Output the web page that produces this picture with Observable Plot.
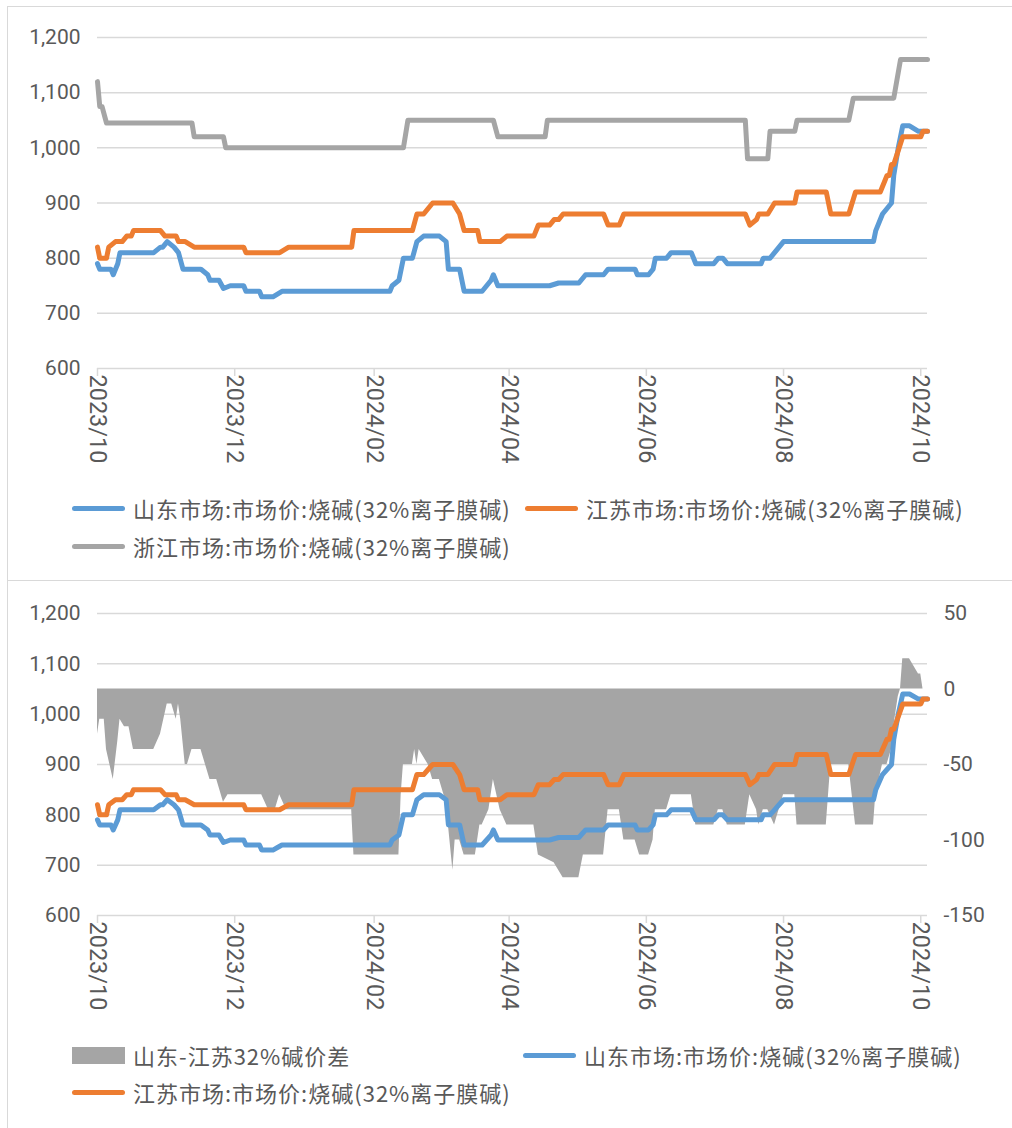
<!DOCTYPE html>
<html><head><meta charset="utf-8">
<script src="https://cdn.jsdelivr.net/npm/d3@7"></script>
<script src="https://cdn.jsdelivr.net/npm/@observablehq/plot@0.6"></script>
<style>
body{margin:0;background:#fff;width:1012px;height:1128px;overflow:hidden;position:relative;font-family:Roboto,"Noto Sans CJK SC",sans-serif;}
.panel{position:absolute;border:1.5px solid #d9d9d9;box-sizing:border-box;}
.chart{position:absolute;left:0;}
.item{position:absolute;display:flex;align-items:center;height:30px;font-family:"Noto Sans CJK SC";font-size:22px;letter-spacing:1px;color:#595959;white-space:nowrap;}
.line{display:inline-block;width:53px;height:5px;border-radius:3px;margin-right:8px;}
.box{display:inline-block;width:53px;height:17px;margin-right:8px;}
</style></head><body>
<div class="panel" style="left:7px;top:6px;width:1010px;height:575px"></div>
<div class="panel" style="left:7px;top:580px;width:1010px;height:560px"></div>
<div id="topChart" class="chart" style="top:0"></div>
<div id="bottomChart" class="chart" style="top:580px"></div>
<script>
// ---- data ----
const seriesNames = ["山东市场:市场价:烧碱(32%离子膜碱)", "江苏市场:市场价:烧碱(32%离子膜碱)", "浙江市场:市场价:烧碱(32%离子膜碱)"];
const spreadName = "山东-江苏32%碱价差";
const xTickLabels = ["2023/10","2023/12","2024/02","2024/04","2024/06","2024/08","2024/10"];
const yTicksLeft = [600,700,800,900,1000,1100,1200];
const yTicksRight = [-150,-100,-50,0,50];

const shandong = [
["2023-10-01",790],["2023-10-02",780],["2023-10-07",780],["2023-10-08",770],["2023-10-10",790],["2023-10-11",810],
["2023-10-26",810],["2023-10-29",820],["2023-10-30",820],["2023-11-01",830],["2023-11-04",820],["2023-11-06",810],
["2023-11-08",780],["2023-11-16",780],["2023-11-19",770],["2023-11-20",760],["2023-11-24",760],["2023-11-26",745],
["2023-11-29",750],["2023-12-05",750],["2023-12-06",740],["2023-12-12",740],["2023-12-13",730],["2023-12-18",730],
["2023-12-20",735],["2023-12-22",740],["2024-02-08",740],["2024-02-09",750],["2024-02-12",760],["2024-02-13",780],
["2024-02-14",800],["2024-02-18",800],["2024-02-20",830],["2024-02-23",840],["2024-03-01",840],["2024-03-04",830],
["2024-03-05",780],["2024-03-10",780],["2024-03-12",740],["2024-03-20",740],["2024-03-22",750],["2024-03-24",760],
["2024-03-25",770],["2024-03-27",750],["2024-04-19",750],["2024-04-23",755],["2024-05-02",755],["2024-05-05",770],
["2024-05-13",770],["2024-05-15",780],["2024-05-27",780],["2024-05-28",770],["2024-06-02",770],["2024-06-04",780],
["2024-06-05",800],["2024-06-10",800],["2024-06-12",810],["2024-06-21",810],["2024-06-23",790],["2024-07-01",790],
["2024-07-03",800],["2024-07-05",800],["2024-07-07",790],["2024-07-22",790],["2024-07-23",800],["2024-07-26",800],
["2024-07-28",810],["2024-07-30",820],["2024-08-01",830],["2024-09-10",830],["2024-09-11",850],["2024-09-14",880],
["2024-09-16",890],["2024-09-18",900],["2024-09-19",950],["2024-09-21",1000],["2024-09-23",1040],["2024-09-26",1040],
["2024-09-30",1030],["2024-10-04",1030]];

const jiangsu = [
["2023-10-01",820],["2023-10-02",800],["2023-10-05",800],["2023-10-06",820],["2023-10-09",830],["2023-10-12",830],
["2023-10-14",840],["2023-10-16",840],["2023-10-17",850],["2023-10-29",850],["2023-10-31",840],["2023-11-05",840],
["2023-11-06",830],["2023-11-09",830],["2023-11-13",820],["2023-12-05",820],["2023-12-06",810],["2023-12-21",810],
["2023-12-25",820],["2024-01-22",820],["2024-01-23",850],["2024-02-18",850],["2024-02-20",880],["2024-02-23",880],
["2024-02-25",890],["2024-02-27",900],["2024-03-07",900],["2024-03-10",880],["2024-03-12",850],["2024-03-18",850],
["2024-03-19",830],["2024-03-28",830],["2024-03-31",840],["2024-04-12",840],["2024-04-14",860],["2024-04-19",860],
["2024-04-21",870],["2024-04-23",870],["2024-04-25",880],["2024-05-13",880],["2024-05-15",860],["2024-05-20",860],
["2024-05-22",880],["2024-07-15",880],["2024-07-17",860],["2024-07-20",870],["2024-07-21",880],["2024-07-25",880],
["2024-07-28",900],["2024-08-06",900],["2024-08-07",920],["2024-08-20",920],["2024-08-22",880],["2024-08-30",880],
["2024-09-02",920],["2024-09-13",920],["2024-09-15",940],["2024-09-16",950],["2024-09-17",950],["2024-09-18",970],
["2024-09-19",970],["2024-09-23",1020],["2024-10-01",1020],["2024-10-02",1030],["2024-10-04",1030]];

const zhejiang = [
["2023-10-01",1120],["2023-10-02",1075],["2023-10-03",1075],["2023-10-05",1045],["2023-11-12",1045],["2023-11-13",1020],
["2023-11-26",1020],["2023-11-27",1000],["2024-02-14",1000],["2024-02-16",1050],["2024-03-25",1050],["2024-03-27",1020],
["2024-04-17",1020],["2024-04-18",1050],["2024-07-15",1050],["2024-07-16",980],["2024-07-25",980],["2024-07-26",1030],
["2024-08-06",1030],["2024-08-07",1050],["2024-08-30",1050],["2024-09-01",1090],["2024-09-19",1090],["2024-09-22",1160],
["2024-10-04",1160]];

const spread = [
["2023-10-01",-30],["2023-10-02",-20],["2023-10-04",-20],["2023-10-05",-40],["2023-10-08",-60],["2023-10-10",-35],
["2023-10-11",-20],["2023-10-13",-25],["2023-10-15",-25],["2023-10-17",-40],["2023-10-26",-40],["2023-10-29",-30],
["2023-11-01",-10],["2023-11-03",-10],["2023-11-05",-20],["2023-11-06",-10],["2023-11-07",-20],["2023-11-09",-50],
["2023-11-10",-50],["2023-11-12",-40],["2023-11-16",-40],["2023-11-18",-50],["2023-11-20",-60],["2023-11-23",-60],
["2023-11-26",-75],["2023-11-28",-70],["2023-12-13",-70],["2023-12-16",-80],["2023-12-19",-80],["2023-12-21",-70],
["2023-12-24",-80],["2024-01-22",-80],["2024-01-23",-110],["2024-02-12",-110],["2024-02-13",-70],["2024-02-14",-50],
["2024-02-18",-50],["2024-02-19",-40],["2024-02-20",-50],["2024-02-21",-40],["2024-02-25",-50],["2024-02-27",-60],
["2024-03-01",-60],["2024-03-04",-75],["2024-03-07",-120],["2024-03-08",-100],["2024-03-10",-100],["2024-03-12",-110],
["2024-03-17",-110],["2024-03-19",-90],["2024-03-20",-90],["2024-03-23",-80],["2024-03-25",-60],["2024-03-28",-80],
["2024-03-31",-90],["2024-04-12",-90],["2024-04-14",-110],["2024-04-21",-115],["2024-04-25",-125],["2024-05-02",-125],
["2024-05-04",-110],["2024-05-13",-110],["2024-05-15",-80],["2024-05-20",-80],["2024-05-22",-100],["2024-05-27",-100],
["2024-05-29",-110],["2024-06-02",-110],["2024-06-04",-100],["2024-06-05",-80],["2024-06-10",-80],["2024-06-12",-70],
["2024-06-21",-70],["2024-06-23",-90],["2024-07-01",-90],["2024-07-03",-80],["2024-07-05",-80],["2024-07-07",-90],
["2024-07-15",-90],["2024-07-17",-70],["2024-07-20",-80],["2024-07-21",-90],["2024-07-23",-80],["2024-07-25",-80],
["2024-07-28",-90],["2024-08-01",-70],["2024-08-06",-70],["2024-08-07",-90],["2024-08-20",-90],["2024-08-22",-50],
["2024-08-30",-50],["2024-09-02",-90],["2024-09-10",-90],["2024-09-11",-70],["2024-09-14",-50],["2024-09-16",-50],
["2024-09-18",-40],["2024-09-19",-25],["2024-09-21",-5],["2024-09-22",0],["2024-09-23",20],["2024-09-26",20],
["2024-09-30",10],["2024-10-01",10],["2024-10-02",0],["2024-10-04",0]];

const colors = {sd:"#5b9bd5", js:"#ed7d31", zj:"#a5a5a5", spread:"#a5a5a5"};

// ---- build ----
const parseDay = d3.utcParse("%Y-%m-%d");
const rows = arr => arr.map(([d,v]) => ({date: parseDay(d), value: v}));
const sdRows = rows(shandong), jsRows = rows(jiangsu), zjRows = rows(zhejiang), spRows = rows(spread);
const xTicks = xTickLabels.map(d3.utcParse("%Y/%m"));
const xDomain = [parseDay("2023-10-01"), parseDay("2024-10-04")];
const fmtX = d3.utcFormat("%Y/%m");
const fmtY = d3.format(",");
// right axis (spread) is placed on the left scale: 0 -> 1050, 50 units -> 150
const toLeft = v => 1050 + 3 * v;

const common = {
  width: 1012, marginLeft: 97, marginRight: 85,
  x: {type: "utc", domain: xDomain},
  y: {domain: [600, 1200]},
  style: {fontFamily: "Roboto, 'Noto Sans CJK SC', sans-serif", color: "#595959", background: "transparent", overflow: "visible"}
};
const axisX = () => Plot.axisX({ticks: xTicks, tickFormat: fmtX, tickRotate: 90, tickSize: 8, tickPadding: -2,
  stroke: "#d9d9d9", strokeOpacity: 1, strokeWidth: 1.5, fill: "#595959", fontSize: 23.5, label: null});
const axisYLeft = () => Plot.axisY({ticks: yTicksLeft, tickFormat: fmtY, tickSize: 0, tickPadding: 17, fontSize: 21, fill: "#595959", label: null});
const grid = () => Plot.gridY(yTicksLeft.filter(v => v > 600), {stroke: "#d9d9d9", strokeOpacity: 1, strokeWidth: 1.5});
const base = () => Plot.ruleY([600], {stroke: "#d9d9d9", strokeWidth: 1.5});
const ln = (data, c) => Plot.line(data, {x: "date", y: "value", stroke: c, strokeWidth: 5, strokeLinejoin: "round", strokeLinecap: "round"});

const topPlot = Plot.plot({...common, height: 480, marginTop: 37, marginBottom: 112,
  marks: [grid(), base(), axisX(), axisYLeft(), ln(sdRows, colors.sd), ln(jsRows, colors.js), ln(zjRows, colors.zj)]});
document.getElementById("topChart").append(topPlot);

const bottomPlot = Plot.plot({...common, height: 450, marginTop: 33, marginBottom: 115,
  marks: [
    grid(),
    Plot.areaY(spRows, {x: "date", y1: () => toLeft(0), y2: d => toLeft(d.value), fill: colors.spread}),
    base(), axisX(), axisYLeft(),
    Plot.axisY({anchor: "right", ticks: yTicksRight.map(toLeft), tickFormat: v => String(Math.round((v - 1050) / 3)),
      tickSize: 0, tickPadding: 16, fontSize: 21, fill: "#595959", textAnchor: "start", label: null}),
    ln(sdRows, colors.sd), ln(jsRows, colors.js)
  ]});
document.getElementById("bottomChart").append(bottomPlot);

// ---- legends ----
function item(x, y, name, color, kind) {
  const el = document.createElement("div");
  el.className = "item";
  el.style.left = x + "px"; el.style.top = (y - 15) + "px";
  const sw = document.createElement("span");
  sw.className = kind; sw.style.background = color;
  el.append(sw, document.createTextNode(name));
  document.body.append(el);
}
item(72, 508, seriesNames[0], colors.sd, "line");
item(525, 508, seriesNames[1], colors.js, "line");
item(72, 546, seriesNames[2], colors.zj, "line");
item(72, 1055, spreadName, colors.spread, "box");
item(523, 1055, seriesNames[0], colors.sd, "line");
item(72, 1092, seriesNames[1], colors.js, "line");
</script>
</body></html>
